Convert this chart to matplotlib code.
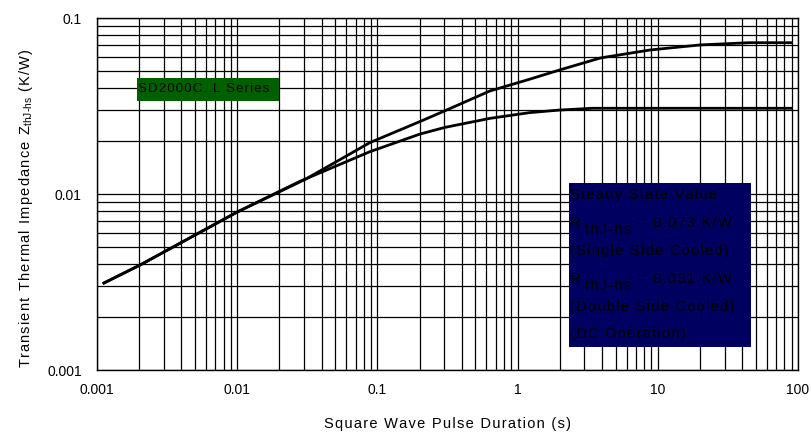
import matplotlib
matplotlib.use('Agg')
import matplotlib.pyplot as plt
from matplotlib.patches import Rectangle

plt.rcParams['font.family'] = ['Liberation Sans', 'DejaVu Sans']

# Single side cooled curve (upper)
t_single = [0.00112, 0.00203, 0.01, 0.0305, 0.0885, 0.201, 0.303, 0.635, 1.22, 2.0, 3.9, 8.8, 20, 45, 90]
z_single = [0.00312, 0.00395, 0.0079, 0.0121, 0.0196, 0.0258, 0.0297, 0.0385, 0.0449, 0.0507, 0.0593, 0.0658, 0.0703, 0.0724, 0.0724]

# Double side cooled curve (lower)
t_double = [0.00112, 0.00203, 0.01, 0.028, 0.0885, 0.201, 0.303, 0.635, 1.22, 2.0, 3.45, 10, 40, 90]
z_double = [0.00312, 0.00395, 0.0079, 0.0118, 0.0174, 0.0219, 0.0239, 0.0269, 0.0290, 0.0300, 0.0307, 0.0307, 0.0307, 0.0307]

xticks = [0.001, 0.01, 0.1, 1, 10, 100]
xticklabels = ['0.001', '0.01', '0.1', '1', '10', '100']
yticks = [0.001, 0.01, 0.1]
yticklabels = ['0.001', '0.01', '0.1']

HS = '\u200a'


def spaced(s):
    # loose letter spacing like the original datasheet font
    return HS.join(s)


fig = plt.figure(figsize=(8.12, 4.32), dpi=100)
ax = fig.add_axes([97 / 812, 1 - 370 / 432, 701 / 812, 352 / 432])

ax.plot(t_single, z_single, color='black', lw=2.0)
ax.plot(t_double, z_double, color='black', lw=2.0)

ax.set_xscale('log')
ax.set_yscale('log')
ax.set_xlim(0.001, 100)
ax.set_ylim(0.001, 0.1)
ax.set_xticks(xticks)
ax.set_xticklabels(xticklabels)
ax.set_yticks(yticks)
ax.set_yticklabels(yticklabels)
ax.grid(which='both', color='black', lw=0.9)
ax.tick_params(which='both', length=0, labelsize=10)
ax.tick_params(axis='x', pad=9)
ax.tick_params(axis='y', pad=11)
for s in ax.spines.values():
    s.set_linewidth(1.0)

ax.set_xlabel(spaced('Square Wave Pulse Duration (s)'), fontsize=10.5, labelpad=15)
ax.set_ylabel(spaced('Transient Thermal Impedance Z') + r'$_{\mathregular{thJ\text{-}hs}}$'
              + spaced(' (K/W)'), fontsize=10.5)
ax.yaxis.set_label_coords(-0.088, 0.46)

# series label box
ax.add_patch(Rectangle((0.057, 0.764), 0.203, 0.066, transform=ax.transAxes,
                       facecolor='#006000', edgecolor='none', zorder=5))
ax.text(0.058, 0.797, spaced('SD2000C..L Series'), transform=ax.transAxes, fontsize=9.5,
        va='center', ha='left', color='black', zorder=6)

# steady state info box
ax.add_patch(Rectangle((0.673, 0.065), 0.260, 0.466, transform=ax.transAxes,
                       facecolor='#000060', edgecolor='none', zorder=5))


def px_x(px):
    return (px - 97) / 701


def px_y(py):
    return (370 - py) / 352


tkw = dict(transform=ax.transAxes, fontsize=10.5, va='center', ha='left', color='black', zorder=6)
ax.text(px_x(570), px_y(195), spaced('Steady State Value'), **tkw)
for row, (val, note) in enumerate([('0.073', '(Single Side Cooled)'),
                                   ('0.031', '(Double Side Cooled)')]):
    y0 = 223 + row * 56
    ax.text(px_x(570), px_y(y0), 'R', **tkw)
    ax.text(px_x(585), px_y(y0 + 7), spaced('thJ-hs'), **tkw)
    ax.text(px_x(638), px_y(y0), spaced('= ' + val + ' K/W'), **tkw)
    ax.text(px_x(570), px_y(y0 + 28), spaced(note), **tkw)
ax.text(px_x(570), px_y(334), spaced('(DC Operation)'), **tkw)

fig.savefig('out.png', dpi=100)
